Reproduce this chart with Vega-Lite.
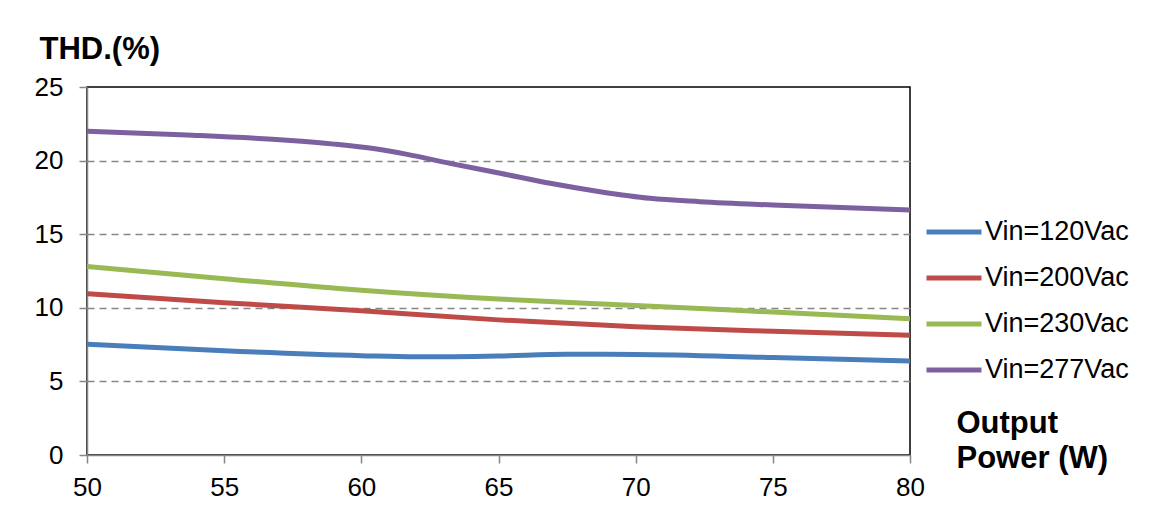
{
  "$schema": "https://vega.github.io/schema/vega-lite/v6.json",
  "width": 823,
  "height": 368,
  "autosize": "none",
  "padding": {"left": 87, "top": 87, "right": 239, "bottom": 65},
  "background": "white",
  "config": {
    "font": "Liberation Sans",
    "view": {"stroke": "black", "strokeWidth": 1.5},
    "axis": {
      "labelFont": "Liberation Sans",
      "labelFontSize": 26,
      "labelColor": "black",
      "labelFlush": false,
      "labelOverlap": false,
      "domainColor": "#868686",
      "domainWidth": 1.5,
      "tickColor": "#868686",
      "tickWidth": 1.5,
      "tickSize": 8,
      "titleFont": "Liberation Sans",
      "titleFontWeight": "bold",
      "titleColor": "black",
      "titleFontSize": 31
    }
  },
  "data": {
    "values": [
      {"p": 50, "thd": 7.52, "vin": "Vin=120Vac"},
      {"p": 55, "thd": 7.08, "vin": "Vin=120Vac"},
      {"p": 60, "thd": 6.75, "vin": "Vin=120Vac"},
      {"p": 62, "thd": 6.67, "vin": "Vin=120Vac"},
      {"p": 65, "thd": 6.73, "vin": "Vin=120Vac"},
      {"p": 67.5, "thd": 6.84, "vin": "Vin=120Vac"},
      {"p": 70, "thd": 6.83, "vin": "Vin=120Vac"},
      {"p": 75, "thd": 6.62, "vin": "Vin=120Vac"},
      {"p": 80, "thd": 6.39, "vin": "Vin=120Vac"},
      {"p": 50, "thd": 10.95, "vin": "Vin=200Vac"},
      {"p": 55, "thd": 10.35, "vin": "Vin=200Vac"},
      {"p": 60, "thd": 9.8, "vin": "Vin=200Vac"},
      {"p": 65, "thd": 9.18, "vin": "Vin=200Vac"},
      {"p": 70, "thd": 8.72, "vin": "Vin=200Vac"},
      {"p": 75, "thd": 8.4, "vin": "Vin=200Vac"},
      {"p": 80, "thd": 8.13, "vin": "Vin=200Vac"},
      {"p": 50, "thd": 12.8, "vin": "Vin=230Vac"},
      {"p": 55, "thd": 11.98, "vin": "Vin=230Vac"},
      {"p": 60, "thd": 11.2, "vin": "Vin=230Vac"},
      {"p": 65, "thd": 10.6, "vin": "Vin=230Vac"},
      {"p": 70, "thd": 10.16, "vin": "Vin=230Vac"},
      {"p": 75, "thd": 9.71, "vin": "Vin=230Vac"},
      {"p": 80, "thd": 9.26, "vin": "Vin=230Vac"},
      {"p": 50, "thd": 22.0, "vin": "Vin=277Vac"},
      {"p": 53.65, "thd": 21.74, "vin": "Vin=277Vac"},
      {"p": 57.29, "thd": 21.38, "vin": "Vin=277Vac"},
      {"p": 59, "thd": 21.12, "vin": "Vin=277Vac"},
      {"p": 60.5, "thd": 20.8, "vin": "Vin=277Vac"},
      {"p": 61.67, "thd": 20.42, "vin": "Vin=277Vac"},
      {"p": 63.23, "thd": 19.81, "vin": "Vin=277Vac"},
      {"p": 65.06, "thd": 19.14, "vin": "Vin=277Vac"},
      {"p": 66.88, "thd": 18.46, "vin": "Vin=277Vac"},
      {"p": 68.7, "thd": 17.89, "vin": "Vin=277Vac"},
      {"p": 70.52, "thd": 17.44, "vin": "Vin=277Vac"},
      {"p": 72.35, "thd": 17.21, "vin": "Vin=277Vac"},
      {"p": 75, "thd": 16.98, "vin": "Vin=277Vac"},
      {"p": 80, "thd": 16.64, "vin": "Vin=277Vac"}
    ]
  },
  "mark": {"type": "line", "interpolate": "monotone", "strokeWidth": 5},
  "encoding": {
    "x": {
      "field": "p",
      "type": "quantitative",
      "scale": {"domain": [50, 80], "nice": false, "zero": false},
      "axis": {
        "values": [50, 55, 60, 65, 70, 75, 80],
        "grid": false,
        "labelPadding": 11,
        "title": ["Output", "Power (W)"],
        "titleAlign": "left",
        "titleBaseline": "alphabetic",
        "titleAngle": 0,
        "titleX": 869,
        "titleY": -23,
        "titleLineHeight": 35
      }
    },
    "y": {
      "field": "thd",
      "type": "quantitative",
      "scale": {"domain": [0, 25], "nice": false},
      "axis": {
        "values": [0, 5, 10, 15, 20, 25],
        "grid": true,
        "gridColor": {"condition": {"test": "datum.value === 0 || datum.value === 25", "value": "transparent"}, "value": "#868686"},
        "gridDash": [7, 5],
        "gridWidth": 1.5,
        "labelPadding": 16,
        "title": "THD.(%)",
        "titleAlign": "left",
        "titleBaseline": "alphabetic",
        "titleAngle": 0,
        "titleX": -48,
        "titleY": -29
      }
    },
    "color": {
      "field": "vin",
      "type": "nominal",
      "scale": {
        "domain": ["Vin=120Vac", "Vin=200Vac", "Vin=230Vac", "Vin=277Vac"],
        "range": ["#4A7EBB", "#BE4B48", "#98B954", "#7D60A0"]
      },
      "legend": {
        "title": null,
        "orient": "none",
        "legendX": 837,
        "legendY": 115,
        "padding": 0,
        "symbolType": "stroke",
        "symbolSize": 3025,
        "symbolStrokeWidth": 5,
        "labelFont": "Liberation Sans",
        "labelFontSize": 27,
        "labelColor": "black",
        "labelOffset": 1,
        "rowPadding": 3
      }
    }
  }
}
